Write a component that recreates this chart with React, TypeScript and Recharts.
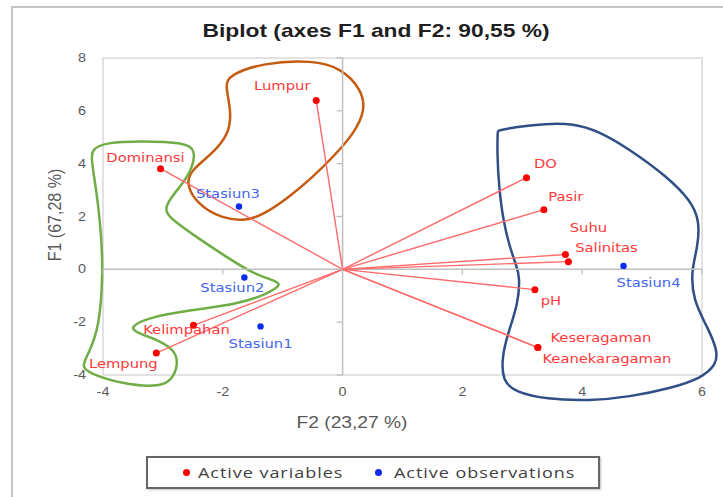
import React from 'react';
import { ComposedChart, XAxis, YAxis, Line, Scatter, ReferenceLine, ReferenceArea } from 'recharts';

// Active variables (F2 = horizontal, F1 = vertical)
const variableNames = ['Lumpur', 'Dominansi', 'Kelimpahan', 'Lempung', 'DO', 'Pasir', 'Suhu', 'Salinitas', 'pH', 'Keseragaman', 'Keanekaragaman'];
const variableF2 = [-0.44, -3.04, -2.49, -3.11, 3.07, 3.36, 3.72, 3.77, 3.21, 3.26, 3.26];
const variableF1 = [6.39, 3.81, -2.12, -3.17, 3.47, 2.26, 0.56, 0.29, -0.77, -2.96, -2.96];

// Active observations
const observationNames = ['Stasiun1', 'Stasiun2', 'Stasiun3', 'Stasiun4'];
const observationF2 = [-1.37, -1.64, -1.73, 4.69];
const observationF1 = [-2.16, -0.31, 2.38, 0.13];

// Axis ticks
const xTicks = [-4, -2, 0, 2, 4, 6];
const yTicks = [-4, -2, 0, 2, 4, 6, 8];

// Hand-drawn group outlines, in (F2, F1) units
const groupOrange: [number, number][] = [
  [-1.9, 7.35], [-1.33, 7.82], [-0.5, 7.92], [-0.02, 7.62], [0.32, 6.8], [0.38, 6.02], [0.19, 5.14],
  [-0.16, 4.25], [-0.5, 3.49], [-0.89, 2.74], [-1.33, 2.06], [-1.61, 1.84], [-2.02, 1.92], [-2.42, 2.45],
  [-2.62, 3.24], [-2.52, 3.78], [-2.17, 4.38], [-1.89, 5.14], [-1.86, 6.02], [-1.96, 6.95],
];
const groupGreen: [number, number][] = [
  [-4.19, 4.55], [-3.95, 4.8], [-3.39, 4.86], [-2.61, 4.8], [-2.46, 4.5], [-2.5, 3.87], [-2.67, 3.24],
  [-2.86, 2.74], [-2.99, 2.23], [-2.83, 1.85], [-2.44, 1.22], [-1.94, 0.47], [-1.5, -0.16], [-1.08, -0.46],
  [-1.04, -0.62], [-1.27, -0.94], [-1.72, -1.3], [-2.55, -1.55], [-3.22, -1.81], [-3.56, -2.18],
  [-3.44, -2.4], [-3.06, -2.69], [-2.8, -3.07], [-2.74, -3.6], [-2.86, -4.25], [-3.11, -4.45],
  [-3.67, -4.35], [-4.24, -3.93], [-4.36, -3.67], [-4.24, -3.19], [-4.06, -2.18], [-4.0, -0.16],
  [-4.03, 1.35], [-4.09, 2.61], [-4.14, 3.37], [-4.19, 4.13],
];
const groupBlue: [number, number][] = [
  [2.59, 5.24], [2.59, 5.24], [2.84, 5.38], [3.4, 5.52], [3.85, 5.52], [4.26, 5.25], [4.81, 4.52], [5.42, 3.5],
  [5.81, 2.61], [5.96, 1.85], [5.93, 0.84], [5.82, -0.04], [5.85, -1.17], [6.09, -2.18], [6.26, -3.07],
  [6.24, -3.6], [5.99, -4.12], [5.48, -4.5], [4.79, -4.83], [4.12, -4.98], [3.4, -4.92], [2.88, -4.64],
  [2.67, -4.22], [2.66, -3.32], [2.76, -2.43], [2.93, -1.3], [2.96, -0.29], [2.9, 0.15], [2.79, 0.84],
  [2.68, 1.85], [2.61, 3.12], [2.58, 4.38],
];

// Label placement (pixels, relative to the point) – style only
const labelOffsets: Record<string, [number, number]> = {
  Lumpur: [-34, -15], Dominansi: [-15, -11], Kelimpahan: [-7, 4], Lempung: [-33, 10],
  DO: [19, -14], Pasir: [22, -13], Suhu: [23, -27], Salinitas: [38, -14], pH: [16, 11],
  Keseragaman: [63, -10], Keanekaragaman: [69, 11],
  Stasiun1: [0, 17], Stasiun2: [-12, 10], Stasiun3: [-11, -13], Stasiun4: [25, 17],
};

const variables = variableNames.map((name, i) => ({ name, x: variableF2[i], y: variableF1[i] }));
const observations = observationNames.map((name, i) => ({ name, x: observationF2[i], y: observationF1[i] }));
const zeroAxisYTicks = yTicks.map((v) => ({ x: 0, y: v }));
const zeroAxisXTicks = xTicks.filter((v) => v !== 0).map((v) => ({ x: v, y: 0 }));

const SX = 1.2;
const TICK_FONT = "'Liberation Sans', Arial, sans-serif";

const YTick = (props: any) => {
  const { x, y, payload } = props;
  return (
    <g transform={`translate(${x},${y})`}>
      <text transform={`scale(${SX},1)`} textAnchor="end" dominantBaseline="central" fontFamily={TICK_FONT} fontSize={12} fill="#595959">
        {payload.value}
      </text>
    </g>
  );
};

const XTick = (props: any) => {
  const { x, y, payload } = props;
  return (
    <g transform={`translate(${x},${y + 17})`}>
      <text transform={`scale(${SX},1)`} textAnchor="middle" dominantBaseline="central" fontFamily={TICK_FONT} fontSize={12} fill="#595959">
        {payload.value}
      </text>
    </g>
  );
};

const makePointShape = (dotColor: string, labelColor: string, r: number) => (props: any) => {
  const { cx, cy, payload } = props;
  const [dx, dy] = labelOffsets[payload.name] || [0, 0];
  return (
    <g>
      <circle cx={cx} cy={cy} r={r} fill={dotColor} />
      <g transform={`translate(${cx + dx},${cy + dy})`}>
        <text transform="scale(1.18,1)" textAnchor="middle" dominantBaseline="central" fontFamily="'DejaVu Sans', Verdana, sans-serif" fontSize={12.5} fill={labelColor}>
          {payload.name}
        </text>
      </g>
    </g>
  );
};

const VariableShape = makePointShape('#ff0000', '#ff3a3a', 3.5);
const ObservationShape = makePointShape('#0a2cf0', '#4466ee', 3.2);

const VTickMark = (props: any) => (
  <line x1={props.cx - 6} x2={props.cx} y1={props.cy} y2={props.cy} stroke="#bfbfbf" strokeWidth={1.3} />
);
const HTickMark = (props: any) => (
  <line x1={props.cx} x2={props.cx} y1={props.cy} y2={props.cy + 5} stroke="#bfbfbf" strokeWidth={1.3} />
);

// closed uniform cubic B-spline through the outline's control points
const basisClosedPath = (pts: { x: number; y: number }[]) => {
  const n = pts.length;
  const P = (i: number) => pts[((i % n) + n) % n];
  let d = '';
  for (let i = 0; i < n; i++) {
    const p0 = P(i - 1), p1 = P(i), p2 = P(i + 1), p3 = P(i + 2);
    if (i === 0) d += `M${(p0.x + 4 * p1.x + p2.x) / 6},${(p0.y + 4 * p1.y + p2.y) / 6}`;
    d += `C${(2 * p1.x + p2.x) / 3},${(2 * p1.y + p2.y) / 3} ${(p1.x + 2 * p2.x) / 3},${(p1.y + 2 * p2.y) / 3} ${(p1.x + 4 * p2.x + p3.x) / 6},${(p1.y + 4 * p2.y + p3.y) / 6}`;
  }
  return d + 'Z';
};

const bounds = (pts: [number, number][]) => {
  const xs = pts.map((p) => p[0]);
  const ys = pts.map((p) => p[1]);
  return { minX: Math.min(...xs), maxX: Math.max(...xs), minY: Math.min(...ys), maxY: Math.max(...ys) };
};

// The ReferenceArea covers the outline's bounding box; its pixel rect (from the axes' scales)
// maps the outline's control points to the screen.
const makeOutlineShape = (pts: [number, number][], color: string) => (props: any) => {
  const { x, y, width, height } = props;
  const b = bounds(pts);
  const pix = pts.map(([a, c]) => ({
    x: x + ((a - b.minX) / (b.maxX - b.minX)) * width,
    y: y + ((b.maxY - c) / (b.maxY - b.minY)) * height,
  }));
  return <path d={basisClosedPath(pix)} fill="none" stroke={color} strokeWidth={2.5} strokeLinejoin="round" />;
};

const outlines = [
  { pts: groupOrange, color: '#c55a11' },
  { pts: groupGreen, color: '#70ad47' },
  { pts: groupBlue, color: '#2f4f86' },
];

export default function App() {
  return (
    <div style={{ position: 'absolute', left: 0, top: 0, width: 723, height: 497, overflow: 'hidden', background: '#ffffff' }}>
      <div style={{ position: 'absolute', left: 11, top: 6, width: 800, height: 600, borderTop: '2px solid #c4c4c4', borderLeft: '2px solid #c4c4c4' }} />
      <div style={{ position: 'absolute', left: 0, top: 0 }}>
        <ComposedChart width={723} height={497} margin={{ top: 58, right: 21, left: 43, bottom: 92 }}>
          <XAxis
            type="number"
            dataKey="x"
            domain={[-4, 6]}
            ticks={xTicks}
            interval={0}
            axisLine={false}
            tickLine={false}
            tickSize={0}
            tickMargin={0}
            height={30}
            tick={<XTick />}
          />
          <YAxis
            type="number"
            dataKey="y"
            domain={[-4, 8]}
            ticks={yTicks}
            interval={0}
            axisLine={false}
            tickLine={false}
            tickSize={0}
            tickMargin={17}
            width={60}
            tick={<YTick />}
          />
          <ReferenceArea x1={-4} x2={6} y1={-4} y2={8} fill="none" stroke="#d9d9d9" strokeWidth={1.5} />
          <ReferenceLine x={0} stroke="#bfbfbf" strokeWidth={1.5} />
          <ReferenceLine y={0} stroke="#bfbfbf" strokeWidth={1.5} />
          <Scatter data={zeroAxisYTicks} dataKey="y" shape={VTickMark} isAnimationActive={false} />
          <Scatter data={zeroAxisXTicks} dataKey="y" shape={HTickMark} isAnimationActive={false} />
          {variables.map((v) => (
            <Line
              key={`vec-${v.name}`}
              data={[{ x: 0, y: 0 }, { x: v.x, y: v.y }]}
              dataKey="y"
              type="linear"
              stroke="#ff6a6a"
              strokeWidth={1.4}
              dot={false}
              activeDot={false}
              isAnimationActive={false}
            />
          ))}
          {outlines.map((o, i) => {
            const b = bounds(o.pts);
            return (
              <ReferenceArea
                key={`outline-${i}`}
                x1={b.minX}
                x2={b.maxX}
                y1={b.minY}
                y2={b.maxY}
                ifOverflow="visible"
                shape={makeOutlineShape(o.pts, o.color)}
              />
            );
          })}
          <Scatter name="Active variables" data={variables} dataKey="y" shape={VariableShape} isAnimationActive={false} />
          <Scatter name="Active observations" data={observations} dataKey="y" shape={ObservationShape} isAnimationActive={false} />
        </ComposedChart>
      </div>

      {/* Title */}
      <div style={{ position: 'absolute', left: 376, top: 31, transform: `translate(-50%,-50%) scaleX(${SX})`, whiteSpace: 'nowrap', fontFamily: TICK_FONT, fontWeight: 'bold', fontSize: 19, color: '#1f1f1f' }}>
        Biplot (axes F1 and F2: 90,55 %)
      </div>

      {/* Axis titles */}
      <div style={{ position: 'absolute', left: 352, top: 423, transform: `translate(-50%,-50%) scaleX(${SX})`, whiteSpace: 'nowrap', fontFamily: TICK_FONT, fontSize: 16, color: '#595959' }}>
        F2 (23,27 %)
      </div>
      <div style={{ position: 'absolute', left: 55, top: 215, transform: `translate(-50%,-50%) scaleX(${SX}) rotate(-90deg)`, whiteSpace: 'nowrap', fontFamily: TICK_FONT, fontSize: 16, color: '#595959' }}>
        F1 (67,28 %)
      </div>

      {/* Legend */}
      <div style={{ position: 'absolute', left: 146, top: 456, width: 450, height: 29, border: '2px solid #666666', boxShadow: '1px 1px 2px rgba(0,0,0,0.25)' }} />
      <div style={{ position: 'absolute', left: 183, top: 469, width: 7, height: 7, borderRadius: '50%', background: '#ff0000' }} />
      <div style={{ position: 'absolute', left: 198, top: 472, transform: `translateY(-50%) scaleX(${SX})`, transformOrigin: 'left center', whiteSpace: 'nowrap', fontFamily: "'Open Sans', sans-serif", fontSize: 15, fontWeight: 500, letterSpacing: 0.8, color: '#404040' }}>
        Active variables
      </div>
      <div style={{ position: 'absolute', left: 375, top: 469, width: 7, height: 7, borderRadius: '50%', background: '#0a2cf0' }} />
      <div style={{ position: 'absolute', left: 394, top: 472, transform: `translateY(-50%) scaleX(${SX})`, transformOrigin: 'left center', whiteSpace: 'nowrap', fontFamily: "'Open Sans', sans-serif", fontSize: 15, fontWeight: 500, letterSpacing: 0.8, color: '#404040' }}>
        Active observations
      </div>
    </div>
  );
}
